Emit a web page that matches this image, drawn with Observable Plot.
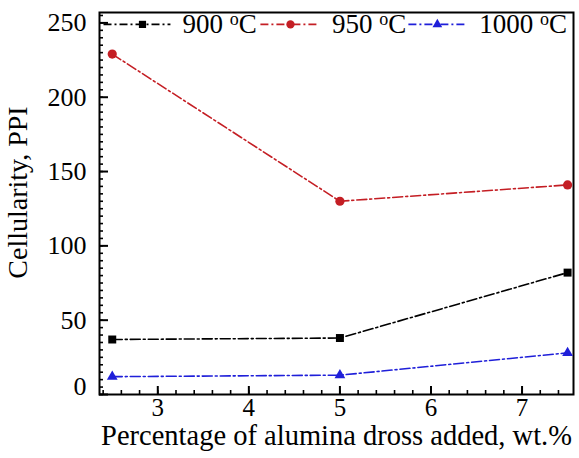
<!DOCTYPE html>
<html>
<head>
<meta charset="utf-8">
<script src="https://cdn.jsdelivr.net/npm/d3@7"></script>
<script src="https://cdn.jsdelivr.net/npm/@observablehq/plot@0.6"></script>
<style>
  html, body { margin: 0; padding: 0; background: #fff; }
</style>
</head>
<body>
<div id="chart"></div>
<script>
// ---- data ----
const drossPct = [2.5, 5, 7.5];
const cell900 = [37, 38, 82];
const cell950 = [229, 130, 141];
const cell1000 = [12, 13, 28];
const seriesNames = ["900 °C", "950 °C", "1000 °C"];
const xTickValues = [3, 4, 5, 6, 7];
const yTickValues = [0, 50, 100, 150, 200, 250];

// ---- layout / style ----
const W = 579, H = 458;
const mL = 99, mR = 6, mT = 12, mB = 64;
const plotW = W - mL - mR, plotH = H - mT - mB;
const colors = ["#000000", "#c41e24", "#1f1fd9"];
const symbols = ["square", "circle", "triangle"];
const radii = [4.5, 4.6, 4];
const dash = "10,3,2,3";
const xDomain = [2.36, 7.565];
const yDomain = [0, 257];

const allValues = [cell900, cell950, cell1000];
const rows = seriesNames.flatMap((s, i) => drossPct.map((x, j) => ({series: s, x, y: allValues[i][j], i})));

const yMinor = d3.range(0, 256, 5);
const xMinor = d3.range(24, 76, 2).map(d => d / 10);

// legend placement in data units (layout only)
const legendY = 249;
const legendLine = [[2.404, 3.139], [4.127, 4.764], [5.752, 6.40]];
const legendMark = [2.832, 4.457, 6.07];
const legendText = [3.271, 4.912, 6.531];
const legendRows = seriesNames.map((s, i) => ({series: s, i, x1: legendLine[i][0], x2: legendLine[i][1], xm: legendMark[i], xt: legendText[i]}));

const marks = [
  Plot.frame({stroke: "black", strokeWidth: 2}),
  Plot.tickY(yMinor, {y: d => d, insetRight: plotW - 4, stroke: "black", strokeWidth: 1.6}),
  Plot.tickY(yTickValues, {y: d => d, insetRight: plotW - 9, stroke: "black", strokeWidth: 2}),
  Plot.tickX(xMinor, {x: d => d, insetTop: plotH - 4, stroke: "black", strokeWidth: 1.6}),
  Plot.tickX(xTickValues, {x: d => d, insetTop: plotH - 8, stroke: "black", strokeWidth: 2}),
  Plot.axisY(yTickValues.filter(d => d !== 0), {tickSize: 0, tickPadding: 13, fontSize: 26, label: null}),
  Plot.axisY([0], {tickSize: 0, tickPadding: 13, fontSize: 26, dy: -8, label: null}),
  Plot.axisX(xTickValues, {tickSize: 0, tickPadding: 4, fontSize: 25, label: null}),
  Plot.text(["Cellularity, PPI"], {frameAnchor: "left", dx: -81, dy: -11, rotate: -90, textAnchor: "middle", lineAnchor: "middle", fontSize: 28, text: d => d}),
  Plot.text(["Percentage of alumina dross added, wt.%"], {frameAnchor: "bottom", dy: 41, lineAnchor: "middle", textAnchor: "middle", fontSize: 28.5, text: d => d})
];

seriesNames.forEach((s, i) => {
  const data = rows.filter(r => r.i === i);
  marks.push(Plot.line(data, {x: "x", y: "y", stroke: colors[i], strokeWidth: 1.6, strokeDasharray: dash}));
  marks.push(Plot.dot(data, {x: "x", y: "y", symbol: symbols[i], r: radii[i], fill: colors[i], stroke: "none"}));
  const lr = legendRows.filter(r => r.i === i);
  marks.push(Plot.link(lr, {x1: "x1", x2: "x2", y1: legendY, y2: legendY, stroke: colors[i], strokeWidth: 1.6, strokeDasharray: "8,3,2,3"}));
  marks.push(Plot.dot(lr, {x: "xm", y: legendY, symbol: symbols[i], r: radii[i] * 0.9, fill: colors[i], stroke: "none"}));
  marks.push(Plot.text(lr, {x: "xt", y: legendY, text: "series", textAnchor: "start", fontSize: 27, fill: "black"}));
});

const chart = Plot.plot({
  width: W, height: H,
  marginLeft: mL, marginRight: mR, marginTop: mT, marginBottom: mB,
  style: {fontFamily: "'Liberation Serif', 'Times New Roman', serif", fontSize: "26px", background: "white", color: "black"},
  x: {domain: xDomain, axis: null},
  y: {domain: yDomain, axis: null},
  marks
});

// superscript "o" in degree labels
d3.select(chart).selectAll("text").each(function() {
  const t = this.textContent;
  if (!/°C$/.test(t)) return;
  const num = t.split(" ")[0];
  const sel = d3.select(this);
  sel.selectAll("*").remove();
  sel.text(null);
  sel.append("tspan").text(num + " ");
  sel.append("tspan").attr("dy", "-8px").attr("font-size", "18px").text("o");
  sel.append("tspan").attr("dy", "8px").text("C");
});

document.getElementById("chart").appendChild(chart);
</script>
</body>
</html>
